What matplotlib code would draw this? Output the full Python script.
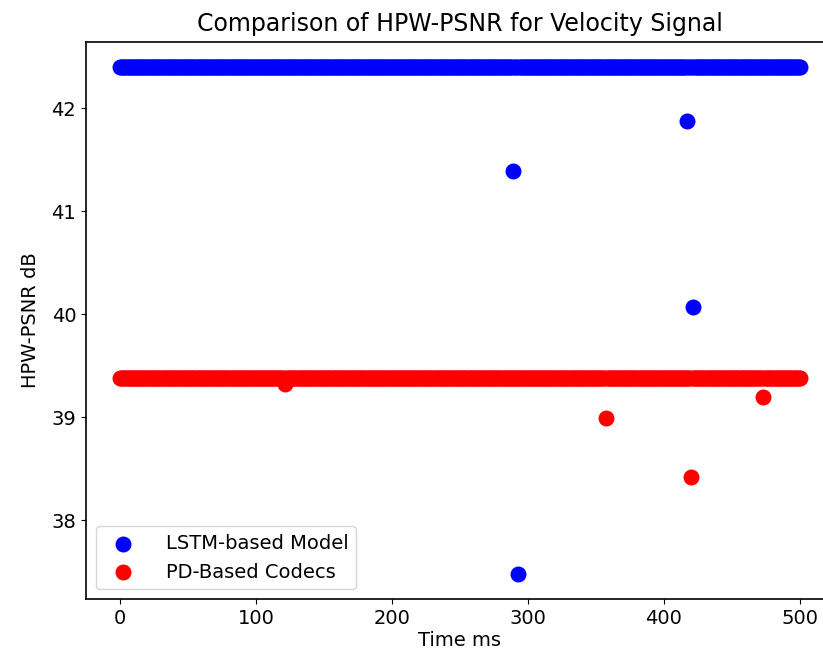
import numpy as np
import matplotlib
matplotlib.use("Agg")
import matplotlib.pyplot as plt

# Time axis (ms)
time_ms = np.arange(0, 501)

# LSTM-based model: baseline value and outliers
lstm_baseline = 42.40
lstm_outlier_t = [289, 293, 417, 421]
lstm_outlier_v = [41.39, 37.48, 41.88, 40.07]

# PD-based codecs: baseline value and outliers
pd_baseline = 39.38
pd_outlier_t = [121, 357, 420, 473]
pd_outlier_v = [39.32, 38.99, 38.42, 39.20]

lstm = np.full(time_ms.shape, lstm_baseline)
for t, v in zip(lstm_outlier_t, lstm_outlier_v):
    lstm[t] = v
pd_vals = np.full(time_ms.shape, pd_baseline)
for t, v in zip(pd_outlier_t, pd_outlier_v):
    pd_vals[t] = v

fig = plt.figure(figsize=(8.23, 6.65), dpi=100)
ax = fig.add_axes([86/823, 66/665, 748/823, 557/665])
ax.scatter(time_ms, lstm, color="blue", s=110, label="LSTM-based Model")
ax.scatter(time_ms, pd_vals, color="red", s=110, label="PD-Based Codecs")
ax.set_xlim(-25, 525)
ax.set_title("Comparison of HPW-PSNR for Velocity Signal", fontsize=17, pad=8)
ax.set_xlabel("Time ms", fontsize=14, labelpad=2)
ax.set_ylabel("HPW-PSNR dB", fontsize=14, labelpad=8)
ax.set_xticks([0, 100, 200, 300, 400, 500])
ax.set_yticks([38, 39, 40, 41, 42])
ax.tick_params(labelsize=14)
for sp in ax.spines.values():
    sp.set_linewidth(1.2)
ax.legend(loc="lower left", fontsize=14, handletextpad=1.2)
fig.savefig("out.png", dpi=100)
